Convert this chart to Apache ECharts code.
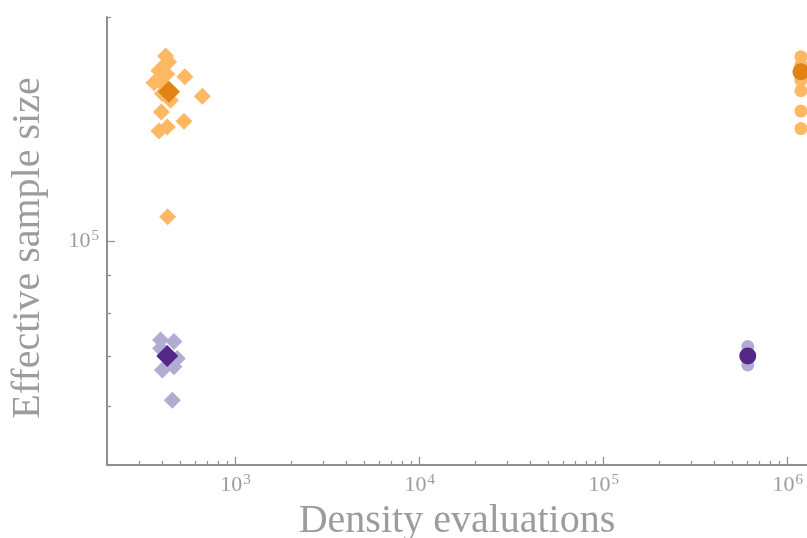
<!DOCTYPE html>
<html>
<head>
<meta charset="utf-8">
<script src="https://cdn.jsdelivr.net/npm/echarts@6/dist/echarts.min.js"></script>
<style>
  html, body { margin: 0; padding: 0; background: #fff; }
  #chart { width: 807px; height: 538px; }
</style>
</head>
<body>
<div id="chart"></div>
<script>
// Sampler comparison: density evaluations vs effective sample size (log-log)

// Diamond runs: individual repeats
const orangeDiamondEvals = [417, 432, 406, 383, 422, 360, 400, 530, 400, 443, 659, 395, 524, 425, 383, 427];
const orangeDiamondESS   = [177300, 174000, 171900, 169400, 167600, 163200, 162500, 166300, 157900, 154600, 156500, 149100, 144800, 142300, 140500, 107800];
const purpleDiamondEvals = [391, 462, 391, 482, 462, 400, 453];
const purpleDiamondESS   = [73640, 73250, 71760, 69530, 67770, 67070, 61100];

// Circle runs: individual repeats
const orangeCircleEvals = [1180000, 1180000, 1180000, 1180000, 1180000, 1180000];
const orangeCircleESS   = [176900, 172400, 164500, 159200, 149500, 141600];
const purpleCircleEvals = [607000, 607000];
const purpleCircleESS   = [72130, 68150];

// Averages (drawn darker and larger)
const orangeDiamondMean = [434, 158700];
const purpleDiamondMean = [425, 70040];
const orangeCircleMean  = [1180000, 168800];
const purpleCircleMean  = [607000, 70040];

// Axis ticks
const xMajorTicks = [1e3, 1e4, 1e5, 1e6];
const xMinorTicks = [200, 300, 400, 500, 600, 700, 800, 900,
                     2000, 3000, 4000, 5000, 6000, 7000, 8000, 9000,
                     20000, 30000, 40000, 50000, 60000, 70000, 80000, 90000,
                     200000, 300000, 400000, 500000, 600000, 700000, 800000, 900000];
const yMajorTicks = [1e5];
const yMinorTicks = [50000, 60000, 70000, 80000, 90000, 200000];

const xRange = [200, 1273600];
const yRange = [50000, 200000];

const LIGHT_ORANGE = '#fdb863', DARK_ORANGE = '#e08214';
const LIGHT_PURPLE = '#b2abd2', DARK_PURPLE = '#542788';
const AXIS_COLOR = '#8f8f8f', TEXT_COLOR = '#9c9c9c';
const FONT = 'Liberation Serif';

function zip(xs, ys) { return xs.map((x, i) => [x, ys[i]]); }

function powLabel(v) {
  return '{b|10}{s|' + Math.round(Math.log10(v)) + '}';
}
const richPow = {
  b: { fontFamily: FONT, fontSize: 22, color: TEXT_COLOR },
  s: { fontFamily: FONT, fontSize: 15, color: TEXT_COLOR, verticalAlign: 'top', padding: [0, 0, 10, 1] }
};

function scatter(name, data, symbol, size, color) {
  return {
    name: name, type: 'scatter', xAxisIndex: 0, yAxisIndex: 0,
    symbol: symbol, symbolSize: size, data: data,
    itemStyle: { color: color, opacity: 1 },
    clip: false, silent: true
  };
}

const chart = echarts.init(document.getElementById('chart'), null, { renderer: 'canvas' });
chart.setOption({
  backgroundColor: '#ffffff',
  animation: false,
  grid: { left: 107, right: 0, top: 17, bottom: 73, containLabel: false, outerBoundsMode: 'none' },
  xAxis: [
    {
      type: 'log', logBase: 10, min: xRange[0], max: xRange[1], position: 'bottom',
      name: 'Density evaluations', nameLocation: 'middle', nameGap: 35,
      nameTextStyle: { fontFamily: FONT, fontSize: 40, color: TEXT_COLOR },
      axisLine: { show: true, lineStyle: { color: AXIS_COLOR, width: 2 } },
      axisTick: { show: true, inside: true, length: 8, customValues: xMajorTicks, lineStyle: { color: AXIS_COLOR, width: 1.2 } },
      axisLabel: { show: true, margin: 8, customValues: xMajorTicks, formatter: powLabel, rich: richPow },
      splitLine: { show: false }, minorTick: { show: false }
    },
    {
      type: 'log', logBase: 10, min: xRange[0], max: xRange[1], position: 'bottom',
      axisLine: { show: false },
      axisTick: { show: true, inside: true, length: 4, customValues: xMinorTicks, lineStyle: { color: AXIS_COLOR, width: 1.2 } },
      axisLabel: { show: false },
      splitLine: { show: false }
    }
  ],
  yAxis: [
    {
      type: 'log', logBase: 10, min: yRange[0], max: yRange[1], position: 'left',
      name: 'Effective sample size', nameLocation: 'middle', nameGap: 59,
      nameTextStyle: { fontFamily: FONT, fontSize: 40, color: TEXT_COLOR, padding: [0, 14, 0, 0] },
      axisLine: { show: true, lineStyle: { color: AXIS_COLOR, width: 2 } },
      axisTick: { show: true, inside: true, length: 8, customValues: yMajorTicks, lineStyle: { color: AXIS_COLOR, width: 1.2 } },
      axisLabel: { show: true, margin: 8, customValues: yMajorTicks, formatter: powLabel, rich: richPow },
      splitLine: { show: false }, minorTick: { show: false }
    },
    {
      type: 'log', logBase: 10, min: yRange[0], max: yRange[1], position: 'left',
      axisLine: { show: false },
      axisTick: { show: true, inside: true, length: 4, customValues: yMinorTicks, lineStyle: { color: AXIS_COLOR, width: 1.2 } },
      axisLabel: { show: false },
      splitLine: { show: false }
    }
  ],
  series: [
    scatter('orange diamonds', zip(orangeDiamondEvals, orangeDiamondESS), 'diamond', 17, LIGHT_ORANGE),
    scatter('purple diamonds', zip(purpleDiamondEvals, purpleDiamondESS), 'diamond', 17, LIGHT_PURPLE),
    scatter('orange circles', zip(orangeCircleEvals, orangeCircleESS), 'circle', 13, LIGHT_ORANGE),
    scatter('purple circles', zip(purpleCircleEvals, purpleCircleESS), 'circle', 13, LIGHT_PURPLE),
    scatter('orange diamond mean', [orangeDiamondMean], 'diamond', 22, DARK_ORANGE),
    scatter('purple diamond mean', [purpleDiamondMean], 'diamond', 22, DARK_PURPLE),
    scatter('orange circle mean', [orangeCircleMean], 'circle', 17, DARK_ORANGE),
    scatter('purple circle mean', [purpleCircleMean], 'circle', 17, DARK_PURPLE)
  ]
});
</script>
</body>
</html>
